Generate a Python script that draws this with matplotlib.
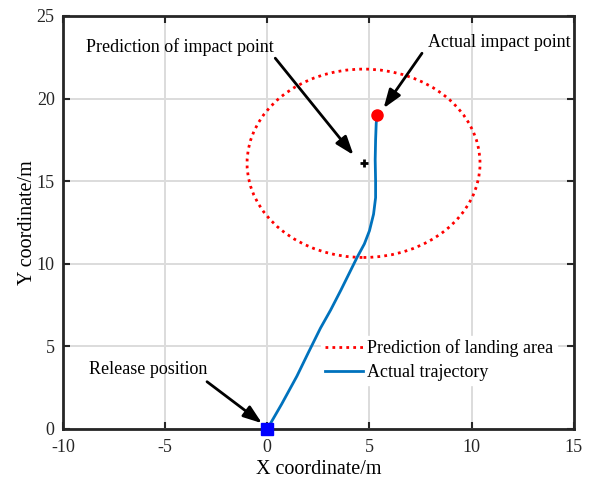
import matplotlib.pyplot as plt
from matplotlib.patches import Ellipse
from matplotlib.lines import Line2D

plt.rcParams['font.family'] = ['Liberation Serif', 'DejaVu Serif']
plt.rcParams['font.size'] = 13
plt.rcParams['axes.unicode_minus'] = False

# trajectory of the dropped object (m)
traj_x = [0, 0.7, 1.45, 2.0, 2.6, 3.1, 3.6, 4.0, 4.4, 4.75, 5.0, 5.2, 5.3, 5.3, 5.28, 5.3, 5.33, 5.37]
traj_y = [0, 1.5, 3.2, 4.6, 6.1, 7.2, 8.4, 9.4, 10.4, 11.2, 12.0, 13.0, 14.0, 15.0, 16.3, 17.5, 18.5, 19.0]

# predicted landing area
pred_center = (4.71, 16.08)
pred_width = 11.4
pred_height = 11.4

impact_actual = (5.37, 19.0)
release = (0, 0)

xticks = [-10, -5, 0, 5, 10, 15]
yticks = [0, 5, 10, 15, 20, 25]

fig = plt.figure(figsize=(5.94, 4.82), dpi=100)
ax = fig.add_axes([0.106, 0.110, 0.860, 0.857])

ax.grid(True, color='#dcdcdc', linewidth=1.4, zorder=0)
ax.set_axisbelow(True)

area = Ellipse(pred_center, pred_width, pred_height, fill=False, edgecolor='red',
               linestyle=(0, (1, 1.5)), linewidth=2.0, zorder=3)
ax.add_patch(area)
ax.plot(traj_x, traj_y, color='#0072BD', linewidth=2.0, zorder=4)

ax.plot(*pred_center, marker='+', color='black', markersize=6, markeredgewidth=2, zorder=5)
ax.plot(*impact_actual, marker='o', color='red', markersize=8, zorder=5)
ax.plot(*release, marker='s', color='blue', markersize=8, clip_on=False, zorder=6)

arrow = dict(arrowstyle='-|>,head_length=0.7,head_width=0.25', color='black', linewidth=2,
             mutation_scale=16, shrinkA=0, shrinkB=0)
ax.annotate('', xy=(4.22, 16.58), xytext=(0.39, 22.44), arrowprops=arrow)
ax.text(-4.26, 23.12, 'Prediction of impact point', ha='center', va='center')
ax.annotate('', xy=(5.69, 19.41), xytext=(7.57, 22.74), arrowprops=arrow)
ax.text(7.88, 23.37, 'Actual impact point', ha='left', va='center')
ax.annotate('', xy=(-0.26, 0.35), xytext=(-2.95, 2.86), arrowprops=arrow)
ax.text(-5.82, 3.57, 'Release position', ha='center', va='center')

handles = [Line2D([], [], color='red', linestyle=(0, (1, 1.5)), linewidth=2.0),
           Line2D([], [], color='#0072BD', linewidth=2.0)]
leg = ax.legend(handles, ['Prediction of landing area', 'Actual trajectory'],
                loc='lower right', bbox_to_anchor=(0.985, 0.085), frameon=True,
                fancybox=False, edgecolor='white', framealpha=1,
                handlelength=2.1, handletextpad=0.25, labelspacing=0.4, borderpad=0.2)

ax.set_xlim(-10, 15)
ax.set_ylim(0, 25)
ax.set_xticks(xticks)
ax.set_yticks(yticks)
ax.tick_params(direction='in', top=True, right=True, length=5, width=1.5, colors='#262626', labelsize=13)
ax.tick_params(axis='x', pad=7)
ax.tick_params(axis='y', pad=6)
for s in ax.spines.values():
    s.set_linewidth(2)
    s.set_color('#262626')
ax.set_xlabel('X coordinate/m', fontsize=14.5, labelpad=3)
ax.set_ylabel('Y coordinate/m', fontsize=14.5, labelpad=0)

fig.savefig('out.png', dpi=100)
